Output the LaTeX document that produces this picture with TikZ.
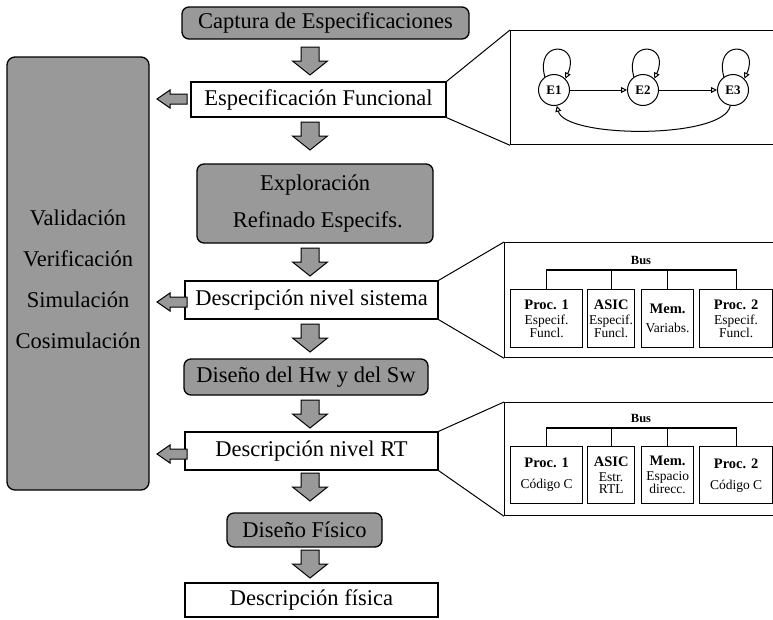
\documentclass[tikz,border=0pt]{standalone}
\usepackage{fontspec}
\setmainfont{Liberation Serif}
\usetikzlibrary{arrows.meta,calc}
\definecolor{dither}{gray}{0.6}
\newcommand\sublbl{\bfseries\fontsize{14.5}{14.5}\selectfont}
\tikzset{
  flowbox/.style={draw, line width=1.3pt, inner sep=0pt, align=center, font=\fontsize{22.5}{24}\selectfont},
  graybox/.style={flowbox, rounded corners=7pt, fill=dither},
  panel/.style={draw, line width=1.3pt, anchor=north west, inner sep=0pt},
  subbox/.style={draw, line width=1.3pt, anchor=north west, inner sep=0pt, align=center, font=\fontsize{13.5}{12}\selectfont},
  state/.style={circle, draw, line width=1pt, minimum size=31pt, inner sep=0pt, font=\bfseries\fontsize{13}{13}\selectfont},
  sm/.style={line width=1pt, -{Triangle[open,length=6pt,width=6pt]}},
  callout/.style={line width=1pt},
  busline/.style={line width=1.2pt},
  blockarrow/.style={draw, line width=1pt, fill=dither, line join=miter},
  downarrow/.pic={\path[blockarrow] (-9,0) -- (9,0) -- (9,-14) -- (17.5,-14) -- (0,-28) -- (-17.5,-14) -- (-9,-14) -- cycle;},
  leftarrow/.pic={\path[blockarrow] (0,0) -- (13,9) -- (13,5) -- (30,5) -- (30,-5) -- (13,-5) -- (13,-9) -- cycle;},
}
\begin{document}
\begin{tikzpicture}[x=1pt,y=1pt]
\useasboundingbox (0,0) rectangle (773,-619);

% left validation column
\node[draw, line width=1.3pt, rounded corners=8pt, fill=dither, minimum width=142pt, minimum height=433pt, inner sep=0pt] (vv) at (78,-273.5) {};
\node[align=center, font=\fontsize{22.5}{41}\selectfont] (vvtext) at (78,-279) {Validación\\Verificación\\Simulación\\Cosimulación};

% main flow
\node[graybox, minimum width=287pt, minimum height=32pt] (cap) at (325.5,-23) {Captura de Especificaciones};
\node[flowbox, minimum width=255pt, minimum height=35pt] (ef) at (318.5,-99.5) {Especificación Funcional};
\node[graybox, minimum width=236pt, minimum height=79pt, font=\fontsize{22.5}{37}\selectfont] (expl) at (315,-203.5) {Exploración\\\ Refinado Especifs.};
\node[flowbox, minimum width=253pt, minimum height=38pt] (ds) at (311.5,-300) {Descripción nivel sistema};
\node[graybox, minimum width=244pt, minimum height=36pt] (dhw) at (306,-377) {Diseño del Hw y del Sw};
\node[flowbox, minimum width=253pt, minimum height=38pt] (drt) at (311.5,-451) {Descripción nivel RT};
\node[graybox, minimum width=155pt, minimum height=34pt] (dfis) at (304.5,-530) {Diseño Físico};
\node[flowbox, minimum width=253pt, minimum height=34pt] (dfisica) at (311.5,-600) {Descripción física};

% block arrows
\foreach \yy in {47,122,248,324,400,473,550} { \pic at (310,-\yy) {downarrow}; }
\foreach \yy in {99,302,454} { \pic at (157,-\yy) {leftarrow}; }

% panel 1: state machine
\node[panel, minimum width=270pt, minimum height=114pt] (P1) at (510,-30) {};
\draw[callout] (ef.north east) -- (P1.north west);
\draw[callout] (ef.south east) -- (P1.south west);
\node[state] (E1) at (554,-90) {E1};
\node[state] (E2) at (643,-90) {E2};
\node[state] (E3) at (733,-90) {E3};
\draw[sm] (E1) -- (E2);
\draw[sm] (E2) -- (E3);
\draw[sm] (E1.125) .. controls +(105:40) and +(65:40) .. (E1.45);
\draw[sm] (E2.125) .. controls +(105:40) and +(65:40) .. (E2.45);
\draw[sm] (E3.125) .. controls +(105:40) and +(65:40) .. (E3.45);
\draw[sm] (E3.-100) .. controls +(-100:34) and +(-75:34) .. (E1.-80);

% panel 2: system level
\node[panel, minimum width=276pt, minimum height=115pt] (P2) at (504,-242) {};
\draw[callout] (ds.north east) -- (P2.north west);
\draw[callout] (ds.south east) -- (P2.south west);
\node[subbox, minimum width=72pt, minimum height=58pt] (p2a) at (510,-289) {{\sublbl Proc. 1}\\[3pt]Especif.\\Funcl.};
\node[subbox, minimum width=47pt, minimum height=58pt] (p2b) at (587,-289) {{\sublbl ASIC}\\[3pt]Especif.\\Funcl.};
\node[subbox, minimum width=52pt, minimum height=58pt] (p2c) at (641,-289) {{\sublbl Mem.}\\[7pt]Variabs.};
\node[subbox, minimum width=73pt, minimum height=58pt] (p2d) at (699,-289) {{\sublbl Proc. 2}\\[3pt]Especif.\\Funcl.};
\coordinate (bus2) at (641,-270);
\node[font=\bfseries\fontsize{12.5}{12.5}\selectfont] (bus2l) at (641,-260) {Bus};
\draw[busline] (p2a.north) |- (bus2) -| (p2d.north);
\draw[busline] (p2b.north) -- (p2b.north |- bus2);
\draw[busline] (p2c.north) -- (p2c.north |- bus2);

% panel 3: RT level
\node[panel, minimum width=276pt, minimum height=113pt] (P3) at (504,-402) {};
\draw[callout] (drt.north east) -- (P3.north west);
\draw[callout] (drt.south east) -- (P3.south west);
\node[subbox, minimum width=72pt, minimum height=57pt] (p3a) at (510,-446) {{\sublbl Proc. 1}\\[9pt]Código C};
\node[subbox, minimum width=47pt, minimum height=57pt] (p3b) at (587,-446) {{\sublbl ASIC}\\[3pt]Estr.\\RTL};
\node[subbox, minimum width=52pt, minimum height=57pt] (p3c) at (641,-446) {{\sublbl Mem.}\\[3pt]Espacio\\direcc.};
\node[subbox, minimum width=73pt, minimum height=57pt] (p3d) at (699,-446) {{\sublbl Proc. 2}\\[9pt]Código C};
\coordinate (bus3) at (641,-428);
\node[font=\bfseries\fontsize{12.5}{12.5}\selectfont] (bus3l) at (641,-418) {Bus};
\draw[busline] (p3a.north) |- (bus3) -| (p3d.north);
\draw[busline] (p3b.north) -- (p3b.north |- bus3);
\draw[busline] (p3c.north) -- (p3c.north |- bus3);
\end{tikzpicture}
\end{document}
